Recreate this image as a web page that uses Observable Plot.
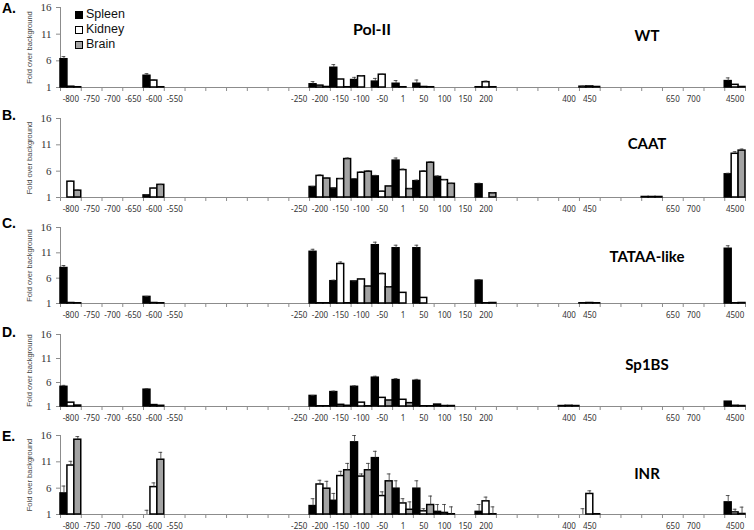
<!DOCTYPE html>
<html>
<head>
<meta charset="utf-8">
<script src="https://cdn.jsdelivr.net/npm/d3@7"></script>
<script src="https://cdn.jsdelivr.net/npm/@observablehq/plot@0.6"></script>
<style>
  html, body { margin: 0; padding: 0; background: #fff; overflow: hidden; }
  #wrap { position: relative; width: 754px; height: 530px; overflow: hidden; font-family: "Liberation Sans", Arial, sans-serif; }
  .panel { position: absolute; left: 0; }
  .panel svg { display: block; }
  .letter { position: absolute; left: 2px; font: bold 14px/14px "Liberation Sans", Arial, sans-serif; color: #000; }
  .title { position: absolute; transform: translate(-50%, -50%); font: bold 15px Lato, "Open Sans", sans-serif; white-space: nowrap; color: #000; }
  .legend { position: absolute; left: 75px; top: 7px; font: 12.5px/15px "Liberation Sans", Arial, sans-serif; color: #111; }
  .legend div { display: flex; align-items: center; height: 15px; }
  .legend span.sw { display: inline-block; width: 6px; height: 6px; border: 1.5px solid #000; margin-right: 3px; }
</style>
</head>
<body>
<div id="wrap"></div>
<script>
// ---- categories on the x axis (position relative to TSS) ----
const categories = ["-800","-750","-700","-650","-600","-550","-500","-450","-400","-350","-300","-250",
  "-200","-150","-100","-50","1","50","100","150","200","250","300","350","400","450",
  "500","550","600","650","700","750","4500"];
const tickLabels = ["-800","-750","-700","-650","-600","-550","","","","","","-250",
  "-200","-150","-100","-50","1","50","100","150","200","","","","400","450",
  "","","","650","700","","4500"];
// positions that carry measurements
const measured = ["-800","-600","-200","-150","-100","-50","1","50","100","150","200","400","450","600","4500"];
const tissues = ["Spleen", "Kidney", "Brain"];
const panelNames = ["WT", "CAAT", "TATAA-like", "Sp1BS", "INR"];
const panelLetters = ["A.", "B.", "C.", "D.", "E."];
const yTicks = [1, 6, 11, 16];

// ---- A. WT ----
const wtSpleen    = [6.3, 3.2, 1.6, 4.7, 2.4, 2.1, 1.7, 1.7, 1, 1, 1.05, 1, 1.15, 1, 2.2];
const wtSpleenErr = [0.5, 0.4, 0.5, 0.6, 0.5, 0.6, 0.6, 0.7, 0, 0, 0, 0, 0.1, 0, 0.6];
const wtKidney    = [1.15, 2.3, 1.35, 2.5, 3.1, 3.4, 1.05, 1.1, 1, 1, 2.0, 1, 1.2, 1, 1.5];
const wtKidneyErr = [0, 0.2, 0, 0, 0.1, 0.1, 0, 0, 0, 0, 0.2, 0, 0, 0, 0];
const wtBrain     = [1.05, 1.05, 1.1, 1.05, 1, 1, 1, 1.05, 1, 1, 1.05, 1, 1.1, 1, 1.1];
const wtBrainErr  = [0, 0, 0, 0, 0, 0, 0, 0, 0, 0, 0, 0, 0, 0, 0];

// ---- B. CAAT ----
const caatSpleen    = [1, 1.4, 3.0, 2.7, 4.4, 5.0, 8.0, 4.1, 4.9, 1, 3.5, 1, 1, 1.1, 5.4];
const caatSpleenErr = [0, 0.1, 0.1, 0.1, 0.2, 0.2, 0.5, 0.2, 0.2, 0, 0.2, 0, 0, 0, 0.2];
const caatKidney    = [4.0, 2.7, 5.1, 4.5, 5.7, 2.1, 6.2, 5.9, 4.3, 1, 1, 1, 1, 1.1, 9.3];
const caatKidneyErr = [0.1, 0.1, 0.2, 0.1, 0.2, 0.1, 0.2, 0.2, 0.1, 0, 0, 0, 0, 0, 0.4];
const caatBrain     = [2.3, 3.4, 4.6, 8.3, 5.9, 3.1, 2.6, 7.6, 3.6, 1, 1.8, 1, 1, 1.1, 9.9];
const caatBrainErr  = [0.1, 0.1, 0.1, 0.2, 0.2, 0.1, 0.1, 0.2, 0.1, 0, 0.1, 0, 0, 0, 0.3];

// ---- C. TATAA-like ----
const tataSpleen    = [8.0, 2.3, 11.2, 5.4, 5.35, 12.5, 11.9, 11.9, 1, 1, 5.5, 1, 1.05, 1, 11.8];
const tataSpleenErr = [0.5, 0.1, 0.5, 0.2, 0.1, 0.6, 0.6, 0.6, 0, 0, 0.2, 0, 0, 0, 0.6];
const tataKidney    = [1.1, 1.1, 1.05, 8.8, 5.75, 6.8, 3.1, 2.1, 1, 1, 1.05, 1, 1.1, 1, 1.05];
const tataKidneyErr = [0, 0, 0, 0.4, 0.1, 0.2, 0, 0, 0, 0, 0, 0, 0, 0, 0];
const tataBrain     = [1.05, 1.05, 1.05, 1.05, 4.35, 4.2, 1, 1, 1, 1, 1.1, 1, 1.05, 1, 1.1];
const tataBrainErr  = [0, 0, 0, 0, 0.1, 0.1, 0, 0, 0, 0, 0, 0, 0, 0, 0];

// ---- D. Sp1BS ----
const spSpleen    = [5.1, 4.5, 3.2, 4.0, 5.1, 7.0, 6.5, 6.35, 1.4, 1, 1, 1.1, 1, 1, 2.0];
const spSpleenErr = [0.3, 0.2, 0.1, 0.2, 0.2, 0.3, 0.3, 0.3, 0, 0, 0, 0, 0, 0, 0];
const spKidney    = [1.8, 1.3, 1.05, 1.35, 1.8, 2.8, 2.4, 1.05, 1.1, 1, 1, 1.15, 1, 1, 1.15];
const spKidneyErr = [0, 0, 0, 0, 0, 0, 0, 0, 0, 0, 0, 0, 0, 0, 0];
const spBrain     = [1.2, 1.15, 1.05, 1.15, 1.05, 2.25, 1.7, 1.05, 1.1, 1, 1, 1.1, 1, 1, 1.1];
const spBrainErr  = [0, 0, 0, 0, 0, 0, 0, 0, 0, 0, 0, 0, 0, 0, 0];

// ---- E. INR ----
const inrSpleen    = [5.0, 1.0, 2.6, 3.6, 14.7, 11.7, 5.9, 5.9, 1.5, 1, 1.5, 1, 1, 1, 3.3];
const inrSpleenErr = [1.4, 0.8, 1.4, 1.4, 1.3, 1.3, 1.5, 1.5, 1.4, 0, 1.4, 0, 1.1, 0, 1.3];
const inrKidney    = [10.3, 6.2, 6.7, 8.3, 8.2, 4.5, 3.1, 1.6, 1.3, 1, 3.5, 1, 4.9, 1, 1.4];
const inrKidneyErr = [0.8, 0.8, 0.8, 0.9, 0.5, 0.8, 0.9, 0.5, 1.6, 0, 0.8, 0, 0.6, 0, 0.6];
const inrBrain     = [15.2, 11.4, 5.9, 9.4, 9.4, 7.3, 1.9, 2.8, 1.05, 1, 1.05, 1, 1.05, 1, 1.1];
const inrBrainErr  = [0.6, 1.4, 1.4, 1.3, 1.3, 1.4, 1.5, 1.7, 1.4, 0, 1.4, 0, 0, 0, 1.3];

const panelSeries = [
  [[wtSpleen, wtKidney, wtBrain], [wtSpleenErr, wtKidneyErr, wtBrainErr]],
  [[caatSpleen, caatKidney, caatBrain], [caatSpleenErr, caatKidneyErr, caatBrainErr]],
  [[tataSpleen, tataKidney, tataBrain], [tataSpleenErr, tataKidneyErr, tataBrainErr]],
  [[spSpleen, spKidney, spBrain], [spSpleenErr, spKidneyErr, spBrainErr]],
  [[inrSpleen, inrKidney, inrBrain], [inrSpleenErr, inrKidneyErr, inrBrainErr]]
];

// ---- page layout (pixels) ----
const layout = [
  {y16: 7,   y1: 87,  letterTop: 1,   titleY: 35},
  {y16: 118, y1: 197, letterTop: 108, titleY: 143},
  {y16: 227, y1: 303, letterTop: 216, titleY: 256},
  {y16: 334, y1: 406, letterTop: 325, titleY: 364},
  {y16: 435, y1: 514, letterTop: 429, titleY: 473}
];
const MT = 8, MB = 22;
const axisGray = "#8c8c8c";

function rows(vals, errs) {
  const out = [];
  tissues.forEach((t, j) => measured.forEach((m, k) => {
    out.push({tissue: t, i: categories.indexOf(m), j, value: vals[j][k], err: errs[j][k]});
  }));
  return out;
}

function panel(data, lay) {
  const h = lay.y1 - lay.y16;
  const center = d => d.i + (d.j + 0.5) / 3;
  const withErr = data.filter(d => d.err > 0);
  return Plot.plot({
    width: 754,
    height: h + MT + MB,
    marginTop: MT, marginBottom: MB, marginLeft: 60, marginRight: 9,
    style: {background: "transparent", overflow: "visible"},
    x: {domain: [0, categories.length], axis: null},
    y: {domain: [1, 16], axis: null},
    color: {domain: tissues, range: ["#000000", "#ffffff", "#a3a3a3"]},
    marks: [
      Plot.axisY({ticks: yTicks, tickSize: 4, tickPadding: 5, fontSize: 11, fontFamily: "Liberation Serif",
        stroke: axisGray, fill: "#333", label: null}),
      Plot.axisX(d3.range(categories.length + 1), {tickSize: 4, tickFormat: () => "", stroke: axisGray, label: null}),
      Plot.axisX(d3.range(categories.length).map(i => i + 0.5), {tickSize: 0, tickPadding: 9,
        tickFormat: v => tickLabels[Math.floor(v)], fontSize: 8, fill: "#333", label: null}),
      Plot.ruleX([0], {y1: 1, y2: 16, stroke: axisGray}),
      Plot.ruleY([1], {stroke: axisGray}),
      Plot.rectY(data.filter(d => d.value > 1), {
        x1: d => d.i + d.j / 3, x2: d => d.i + (d.j + 1) / 3,
        y1: 1, y2: "value", fill: "tissue", stroke: "#000", strokeWidth: 1.5
      }),
      Plot.ruleX(withErr, {x: center, y1: "value", y2: d => d.value + d.err, stroke: "#333", strokeWidth: 0.8}),
      Plot.ruleY(withErr, {y: d => d.value + d.err, x1: d => center(d) - 0.09, x2: d => center(d) + 0.09,
        stroke: "#333", strokeWidth: 0.8}),
      Plot.text(["Fold over background"], {x: () => 0, y: () => (yTicks[0] + yTicks[yTicks.length - 1]) / 2,
        rotate: -90, dx: -31, textAnchor: "middle", fontSize: 7.5,
        fill: "#444", fontFamily: "Liberation Sans"})
    ]
  });
}

const wrap = document.getElementById("wrap");
panelSeries.forEach(([vals, errs], p) => {
  const lay = layout[p];
  const div = document.createElement("div");
  div.className = "panel";
  div.style.top = (lay.y16 - MT) + "px";
  div.appendChild(panel(rows(vals, errs), lay));
  wrap.appendChild(div);

  const letter = document.createElement("div");
  letter.className = "letter";
  letter.style.top = lay.letterTop + "px";
  letter.textContent = panelLetters[p];
  wrap.appendChild(letter);

  const title = document.createElement("div");
  title.className = "title";
  title.style.left = "647px";
  title.style.top = lay.titleY + "px";
  title.textContent = panelNames[p];
  wrap.appendChild(title);
});

// main title
const main = document.createElement("div");
main.className = "title";
main.style.left = "372px";
main.style.top = "28px";
main.style.fontSize = "16px";
main.textContent = "Pol-II";
wrap.appendChild(main);

// legend
const legend = document.createElement("div");
legend.className = "legend";
const swatch = ["#000000", "#ffffff", "#a3a3a3"];
tissues.forEach((t, j) => {
  const row = document.createElement("div");
  const sw = document.createElement("span");
  sw.className = "sw";
  sw.style.background = swatch[j];
  row.appendChild(sw);
  row.appendChild(document.createTextNode(t));
  legend.appendChild(row);
});
wrap.appendChild(legend);
</script>
</body>
</html>
